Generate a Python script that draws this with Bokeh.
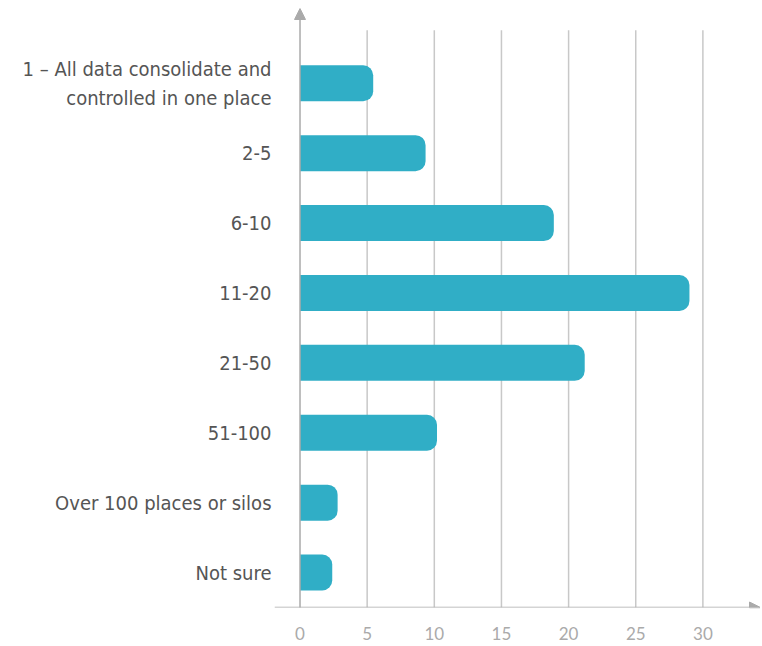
from bokeh.plotting import figure
from bokeh.models import FixedTicker, Arrow, NormalHead, Range1d
from bokeh.embed import file_html
from bokeh.resources import INLINE

categories = ["1 – All data consolidate and\ncontrolled in one place", "2-5", "6-10", "11-20",
              "21-50", "51-100", "Over 100 places or silos", "Not sure"]
values = [5.45, 9.35, 18.9, 29.0, 21.2, 10.2, 2.8, 2.4]
x_ticks = [0, 5, 10, 15, 20, 25, 30]

n = len(categories)
ypos = [n - 1 - i for i in range(n)]

p = figure(width=760, height=644, output_backend="svg", toolbar_location=None,
           x_range=Range1d(-1.9, 34.29), y_range=Range1d(-0.5, 8.07),
           min_border_left=274, min_border_right=0, min_border_top=8, min_border_bottom=37)
p.outline_line_color = None
p.xgrid.visible = False
p.ygrid.visible = False

# vertical grid lines
p.segment(x0=x_ticks[1:], x1=x_ticks[1:], y0=-0.5, y1=7.76, line_color="#c8c8c8", line_width=1.5)

p.hbar(y=ypos, left=0, right=values, height=0.515, fill_color="#30aec6", line_color=None,
       border_radius=(0, 10, 10, 0))

# axes with arrows
p.add_layout(Arrow(x_start=0, y_start=-0.55, x_end=0, y_end=8.07, line_color="#aaaaaa", line_width=1.5,
                   end=NormalHead(size=11, fill_color="#aaaaaa", line_color="#aaaaaa")))
p.add_layout(Arrow(x_start=-1.9, y_start=-0.5, x_end=34.29, y_end=-0.5, line_color="#aaaaaa", line_width=1.5,
                   end=NormalHead(size=11, fill_color="#aaaaaa", line_color="#aaaaaa")))

p.yaxis.ticker = FixedTicker(ticks=ypos)
p.yaxis.major_label_overrides = {y: c for y, c in zip(ypos, categories)}
p.yaxis.axis_line_color = None
p.yaxis.major_tick_line_color = None
p.yaxis.minor_tick_line_color = None
p.yaxis.major_label_standoff = -3
p.yaxis.major_label_text_font = "DejaVu Sans Condensed"
p.yaxis.major_label_text_font_size = "20px"
p.yaxis.major_label_text_color = "#555555"

p.xaxis.ticker = FixedTicker(ticks=x_ticks)
p.xaxis.axis_line_color = None
p.xaxis.major_tick_line_color = None
p.xaxis.minor_tick_line_color = None
p.xaxis.major_label_standoff = 13
p.xaxis.major_label_text_font = "Lato"
p.xaxis.major_label_text_font_size = "17px"
p.xaxis.major_label_text_color = "#aaaaaa"

open("out.html", "w").write(file_html(p, INLINE))
